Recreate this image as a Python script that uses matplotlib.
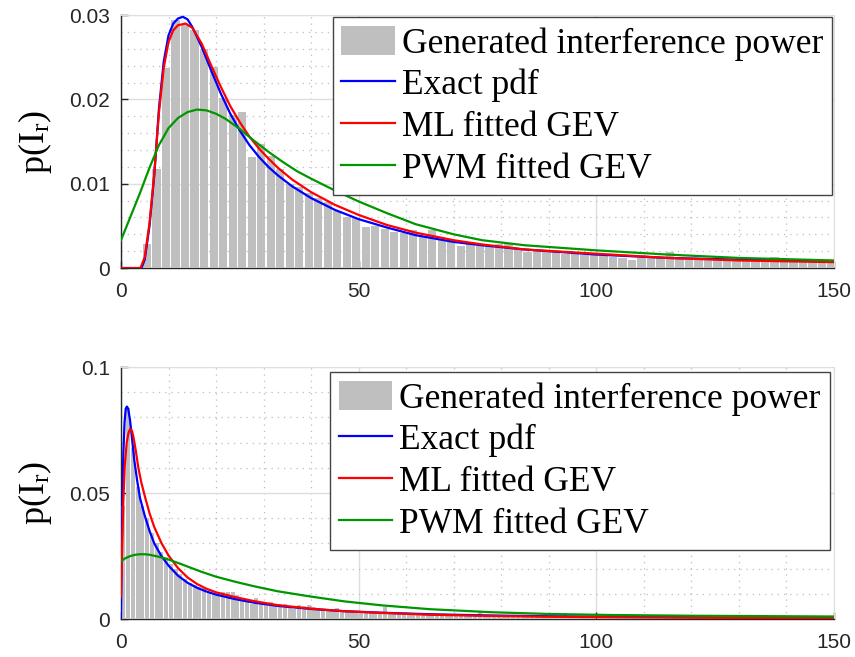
import numpy as np
import matplotlib
matplotlib.use("Agg")
import matplotlib.pyplot as plt
from matplotlib.patches import Patch
from matplotlib.ticker import MultipleLocator

plt.rcParams['font.family'] = ['Liberation Sans', 'DejaVu Sans']
plt.rcParams['mathtext.fontset'] = 'custom'
plt.rcParams['mathtext.rm'] = 'Liberation Serif'
plt.rcParams['mathtext.it'] = 'Liberation Serif:italic'

# ---- top panel data ----
top_centers = np.arange(1.5, 150, 2.0)
top_hist = [0, 0, 0.0029, 0.0117, 0.0237, 0.0294, 0.0290, 0.0282, 0.0260, 0.0238,
            0.0202, 0.0182, 0.0185, 0.0132, 0.0147, 0.0133, 0.0117, 0.0100, 0.0096, 0.0089,
            0.0083, 0.0078, 0.0068, 0.0061, 0.0059,
            0.0049, 0.0050, 0.0046, 0.0043, 0.0041, 0.0045, 0.0037, 0.0045, 0.0033, 0.0033,
            0.0026, 0.0028, 0.0027, 0.0026, 0.0028, 0.0028, 0.0023, 0.0019, 0.0020, 0.0022,
            0.0019, 0.0017, 0.0019, 0.0016, 0.0015,
            0.0014, 0.0013, 0.0012, 0.0010, 0.0012, 0.0013, 0.0012, 0.0019, 0.0013, 0.0009,
            0.0009, 0.0010, 0.0010, 0.0009, 0.0010, 0.0009, 0.0008, 0.0009, 0.0013, 0.0011,
            0.0008, 0.0008, 0.0007, 0.0007, 0.0006]

top_exact_x = [0, 4.3, 5, 6, 7, 8, 9, 10, 11, 12, 13, 14, 15, 17, 19, 21, 23, 25, 27, 29,
               31, 33, 36, 40, 45, 50, 56, 62, 70, 76, 85, 100, 115, 130, 150]
top_exact_y = [0, 0, 0.0010, 0.0050, 0.0110, 0.0190, 0.0245, 0.0276, 0.0290, 0.0296, 0.0298,
               0.0295, 0.0286, 0.0262, 0.0234, 0.0207, 0.0183, 0.0163, 0.0146, 0.0132,
               0.0120, 0.0110, 0.0097, 0.0083, 0.0069, 0.0058, 0.0048, 0.0039, 0.0031,
               0.0027, 0.0022, 0.0016, 0.0012, 0.0010, 0.0008]

top_ml_x = [0, 4.1, 5, 6, 7, 8, 9, 10, 11, 12, 13.6, 15, 17, 19, 21, 23, 25, 27, 29, 31,
            33, 36, 40, 45, 50, 56, 62, 70, 76, 85, 100, 115, 130, 150]
top_ml_y = [0, 0, 0.0013, 0.0053, 0.0112, 0.0185, 0.0238, 0.0268, 0.0282, 0.0288, 0.0290,
            0.0285, 0.0266, 0.0240, 0.0215, 0.0192, 0.0173, 0.0156, 0.0142, 0.0130, 0.0119,
            0.0105, 0.0090, 0.0075, 0.0063, 0.0051, 0.0042, 0.0033, 0.0028, 0.0022, 0.0017,
            0.0012, 0.0009, 0.0007]

top_pwm_x = [0, 2, 4, 6, 8, 10, 12, 14, 16, 18, 20, 22, 25, 28, 31, 34, 37, 40, 45, 50,
             56, 62, 70, 76, 85, 100, 115, 130, 150]
top_pwm_y = [0.0033, 0.0061, 0.0089, 0.0119, 0.0146, 0.0166, 0.0178, 0.0185, 0.0188,
             0.0187, 0.0183, 0.0177, 0.0165, 0.0151, 0.0138, 0.0126, 0.0115, 0.0106, 0.0092,
             0.0079, 0.0065, 0.0052, 0.0040, 0.0033, 0.0027, 0.0021, 0.0016, 0.0012, 0.0009]

# ---- bottom panel data ----
bot_centers = np.arange(0.5, 150, 1.0)
bot_hist = [0.045, 0.0836, 0.068, 0.0525, 0.045, 0.040, 0.034, 0.030, 0.0267, 0.0247,
            0.022, 0.020, 0.018, 0.016, 0.0144, 0.0135, 0.0126, 0.0122, 0.0105, 0.0102,
            0.0095, 0.0108, 0.0106, 0.0106, 0.0095, 0.0075, 0.0075, 0.0060, 0.0082, 0.0069,
            0.0065, 0.0066, 0.0056, 0.0058, 0.0058, 0.0045, 0.0038, 0.0054, 0.0050, 0.0055,
            0.0049, 0.0042, 0.0040, 0.0037, 0.0033, 0.0042, 0.0033, 0.0030, 0.0030, 0.0026,
            0.0028, 0.0030, 0.0027, 0.0022, 0.0025, 0.0049, 0.0028, 0.0025, 0.0022, 0.0024,
            0.0021, 0.0024, 0.0019, 0.0020, 0.0022, 0.0018, 0.0019, 0.0017, 0.0020, 0.0016,
            0.0017, 0.0015, 0.0018, 0.0016, 0.0015, 0.0033, 0.0016, 0.0014, 0.0015, 0.0013,
            0.0014, 0.0015, 0.0012, 0.0013, 0.0014, 0.0012, 0.0011, 0.0013, 0.0012, 0.0011,
            0.0012, 0.0010, 0.0011, 0.0022, 0.0011, 0.0010, 0.0012, 0.0009, 0.0010, 0.0011,
            0.0009, 0.0010, 0.0008, 0.0010, 0.0009, 0.0011, 0.0008, 0.0009, 0.0010, 0.0008,
            0.0009, 0.0008, 0.0010, 0.0007, 0.0009, 0.0008, 0.0009, 0.0007, 0.0008, 0.0009,
            0.0008, 0.0007, 0.0009, 0.0008, 0.0007, 0.0008, 0.0009, 0.0007, 0.0008, 0.0006,
            0.0008, 0.0007, 0.0007, 0.0008, 0.0006, 0.0007, 0.0012, 0.0007, 0.0006, 0.0007,
            0.0006, 0.0007, 0.0006, 0.0013, 0.0012, 0.0013, 0.0006, 0.0007, 0.0005, 0.0006]

bot_exact_x = [0, 0.15, 0.3, 0.5, 0.75, 1.0, 1.25, 1.5, 1.9, 2.3, 2.8, 3.4, 4, 5, 6, 7,
               8.5, 10, 12, 14, 16, 18, 20, 24, 28, 33, 40, 47, 55, 65, 78, 90, 103, 120, 150]
bot_exact_y = [0, 0.025, 0.048, 0.066, 0.078, 0.0835, 0.0843, 0.0835, 0.079, 0.072, 0.063,
               0.055, 0.048, 0.041, 0.035, 0.030, 0.0250, 0.0212, 0.0172, 0.0144, 0.0124,
               0.0109, 0.0097, 0.0079, 0.0065, 0.0052, 0.0040, 0.0031, 0.0025, 0.0019,
               0.0014, 0.0011, 0.0009, 0.0008, 0.0006]

bot_ml_x = [0, 0.2, 0.5, 0.8, 1.2, 1.6, 1.9, 2.3, 2.6, 3.1, 3.65, 4.3, 5.05, 6, 7, 8.5, 10,
            12, 14, 16, 18, 20, 24, 28, 33, 40, 47, 55, 65, 78, 90, 103, 120, 150]
bot_ml_y = [0.0089, 0.025, 0.047, 0.061, 0.070, 0.074, 0.0753, 0.0748, 0.0724, 0.067,
            0.060, 0.054, 0.0485, 0.042, 0.0365, 0.0302, 0.0252, 0.0202, 0.0165, 0.0139,
            0.0120, 0.0106, 0.0087, 0.0071, 0.0055, 0.0041, 0.0031, 0.0024, 0.0017, 0.0012,
            0.0009, 0.0007, 0.0005, 0.0003]

bot_pwm_x = [0, 1, 2, 3, 4, 5, 6, 8, 10, 12.8, 15, 17, 20, 24, 28, 33, 40, 47, 55, 65, 78,
             90, 103, 120, 150]
bot_pwm_y = [0.023, 0.0242, 0.0250, 0.0255, 0.0257, 0.0257, 0.0255, 0.0247, 0.0236, 0.0217,
             0.0201, 0.0187, 0.0168, 0.0148, 0.0130, 0.0110, 0.0089, 0.0070, 0.0054, 0.0039,
             0.0027, 0.0020, 0.0016, 0.0013, 0.0010]

leg_labels = ['Generated interference power', 'Exact pdf', 'ML fitted GEV', 'PWM fitted GEV']
bar_col = '#bfbfbf'
ink = '#262626'


def draw_panel(ax, centers, heights, width, curves, ylim, ymajor, yminor, yticklabels, anchor):
  ax.bar(centers, heights, width=width, color=bar_col, edgecolor='none', zorder=2.6)
  for (cx, cy), col in zip(curves, ['#0000ff', '#ff0000', '#009600']):
    ax.plot(cx, cy, color=col, lw=1.6, zorder=3, solid_joinstyle='round')

  ax.set_xlim(0, 150)
  ax.set_ylim(*ylim)
  ax.set_xticks([0, 50, 100, 150])
  ax.set_yticks(ymajor)
  ax.set_yticklabels(yticklabels)
  ax.xaxis.set_minor_locator(MultipleLocator(10))
  ax.yaxis.set_minor_locator(MultipleLocator(yminor))

  ax.grid(True, which='major', color='#dedede', lw=1.0, ls='-', zorder=0)
  ax.grid(True, which='minor', color='#bdbdbd', lw=0.9, ls=(0, (1, 4)), zorder=0)
  ax.set_axisbelow(True)

  ax.tick_params(which='major', direction='in', length=5, width=1, color=ink,
                 labelcolor=ink, labelsize=15)
  ax.tick_params(axis='x', which='major', pad=10)
  ax.tick_params(axis='y', which='major', pad=8)
  ax.tick_params(which='minor', length=0)
  for s in ['left', 'bottom']:
    ax.spines[s].set_color(ink)
    ax.spines[s].set_linewidth(1.0)
  for s in ['top', 'right']:
    ax.spines[s].set_color('#dedede')

  ax.set_ylabel(r'p(I$_\mathrm{r}$)', family='Liberation Serif', fontsize=26, labelpad=11)

  handles = [Patch(facecolor=bar_col, edgecolor='none')]
  handles += [plt.Line2D([], [], color=c, lw=1.6) for c in ['#0000ff', '#ff0000', '#009600']]
  leg = ax.legend(handles, leg_labels, loc='upper right', bbox_to_anchor=anchor,
                  prop={'family': 'Liberation Serif', 'size': 25.5}, fancybox=False,
                  framealpha=1, edgecolor='#444444', borderaxespad=0, borderpad=0.25,
                  handlelength=1.5, handleheight=0.88, handletextpad=0.2,
                  labelspacing=0.2)
  leg.get_frame().set_linewidth(1.0)
  leg.set_zorder(5)


fig = plt.figure(figsize=(8.55, 6.57), dpi=100)
ax1 = fig.add_axes([0.1415, 0.592, 0.8339, 0.385])
ax2 = fig.add_axes([0.1415, 0.0578, 0.8339, 0.3836])

draw_panel(ax1, top_centers, top_hist, 1.75,
           [(top_exact_x, top_exact_y), (top_ml_x, top_ml_y), (top_pwm_x, top_pwm_y)],
           (0, 0.03), [0, 0.01, 0.02, 0.03], 0.002, ['0', '0.01', '0.02', '0.03'],
           (0.997, 0.992))
draw_panel(ax2, bot_centers, bot_hist, 0.85,
           [(bot_exact_x, bot_exact_y), (bot_ml_x, bot_ml_y), (bot_pwm_x, bot_pwm_y)],
           (0, 0.1), [0, 0.05, 0.1], 0.01, ['0', '0.05', '0.1'],
           (0.994, 0.98))

fig.savefig('out.png', dpi=100)
